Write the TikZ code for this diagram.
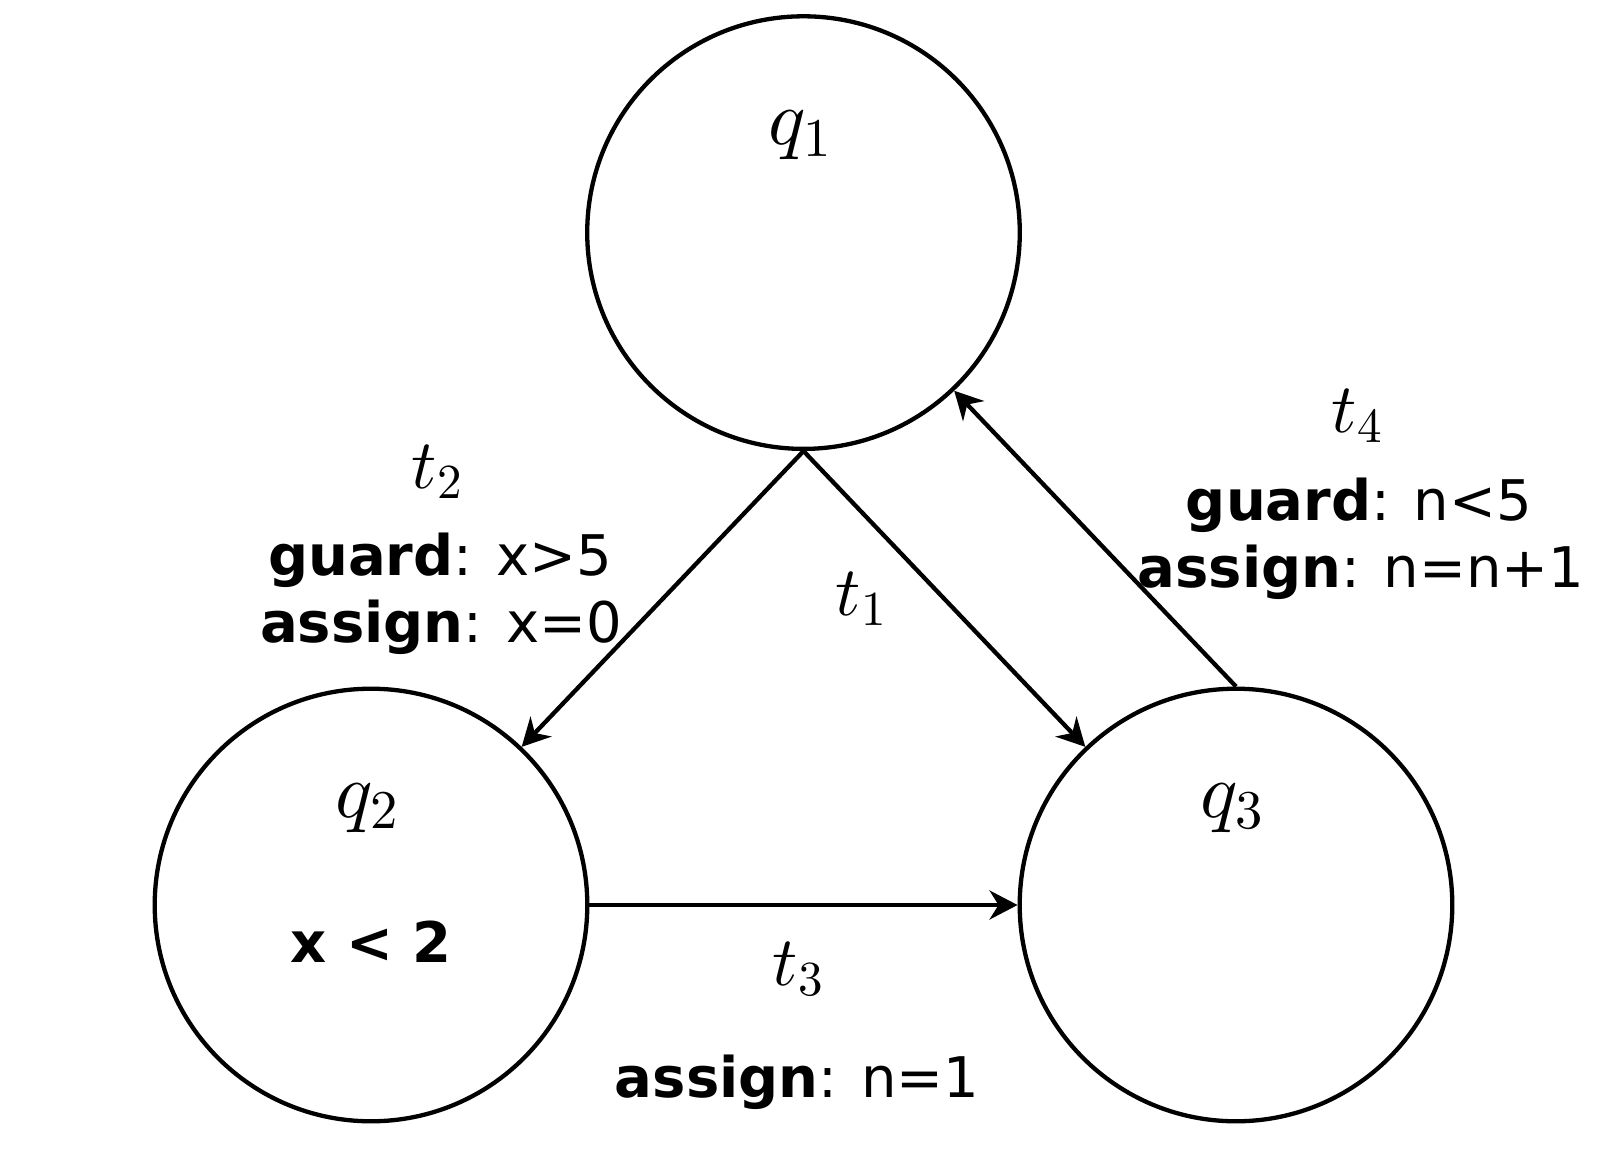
\documentclass[tikz,border=0pt]{standalone}
\usepackage{fix-cm}
\usepackage[no-math]{fontspec}
\setmainfont{DejaVu Sans}
\DeclareFontShape{OML}{cmm}{m}{it}{<->cmmi10}{}
\DeclareFontShape{OT1}{cmr}{m}{n}{<->cmr10}{}
\DeclareFontShape{OMS}{cmsy}{m}{n}{<->cmsy10}{}
\usetikzlibrary{arrows.meta}
\begin{document}
\begin{tikzpicture}[x=1pt,y=-1pt,
  state/.style={circle,draw,line width=4.3pt,minimum size=432.6pt,inner sep=0pt},
  edge/.style={line width=4.3pt,-{Stealth[length=28pt,width=29pt,inset=9pt]}},
  lbl/.style={anchor=base,inner sep=0pt,font=\fontsize{56}{66}\selectfont},
  mq/.style={anchor=base,inner sep=0pt,font=\fontsize{78}{92}\selectfont},
  mt/.style={anchor=base,inner sep=0pt,font=\fontsize{70}{82}\selectfont}]
\useasboundingbox (0,0) rectangle (1606,1150);
\node[state] (q1) at (803.5,232.6) {};
\node[state] (q2) at (371,905) {};
\node[state] (q3) at (1236,905) {};
\node[mq] (lq1) at (800,145) {$q_1$};
\node[mq] (lq2) at (367,817) {$q_2$};
\node[mq] (lq3) at (1232,817) {$q_3$};
\node[lbl] (inv) at (371,962) {\textbf{x < 2}};
\draw[edge] (q1.south) -- (q2);
\draw[edge] (q1.south) -- (q3);
\draw[edge] (q3.north) -- (q1);
\draw[edge] (q2.east) -- (q3.west);
\node[mt] (t2) at (437,488) {$t_2$};
\node[lbl] (g2) at (440,575) {\textbf{guard}: x>5};
\node[lbl] (a2) at (441,642) {\textbf{assign}: x=0};
\node[mt] (t1) at (861,615) {$t_1$};
\node[mt] (t4) at (1357,432) {$t_4$};
\node[lbl] (g4) at (1359,520) {\textbf{guard}: n<5};
\node[lbl] (a4) at (1361,587) {\textbf{assign}: n=n+1};
\node[mt] (t3) at (798,985) {$t_3$};
\node[lbl] (a3) at (797,1097) {\textbf{assign}: n=1};
\end{tikzpicture}
\end{document}
